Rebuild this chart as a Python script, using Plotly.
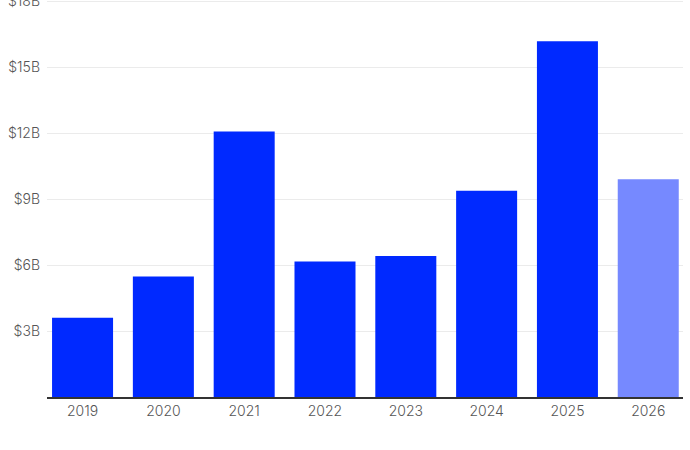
import plotly.graph_objects as go

years = ["2019", "2020", "2021", "2022", "2023", "2024", "2025", "2026"]
values_b = [3.6, 5.48, 12.07, 6.16, 6.41, 9.38, 16.18, 9.9]
bar_colors = ["#0029FF"] * 7 + ["#7689FF"]
tick_vals = [0, 3, 6, 9, 12, 15, 18]
tick_text = ["", "$3B", "$6B", "$9B", "$12B", "$15B", "$18B"]

fig = go.Figure(
    go.Bar(
        x=years,
        y=values_b,
        marker=dict(color=bar_colors, line=dict(width=0)),
        hoverinfo="skip",
    )
)

fig.update_layout(
    width=690,
    height=450,
    margin=dict(l=47, r=7, t=0, b=53, autoexpand=False),
    paper_bgcolor="white",
    plot_bgcolor="white",
    bargap=0.245,
    showlegend=False,
    font=dict(family="Inter, Liberation Sans, sans-serif", size=14, color="#555555"),
)
fig.update_xaxes(
    type="category",
    range=[-0.44, 7.43],
    automargin=False,
    showgrid=False,
    showline=True,
    linecolor="#333333",
    linewidth=1.5,
    ticks="",
    tickfont=dict(size=14, color="#555555", weight=300),
)
fig.update_yaxes(
    range=[0, 18.05],
    automargin=False,
    tickvals=tick_vals,
    ticktext=tick_text,
    showgrid=True,
    gridcolor="#EBEBEB",
    gridwidth=1,
    zeroline=False,
    showline=False,
    ticks="",
    ticklabelstandoff=6,
    ticklabeloverflow="allow",
    tickfont=dict(size=14, color="#555555", weight=300),
)

fig.write_html("out.html")
